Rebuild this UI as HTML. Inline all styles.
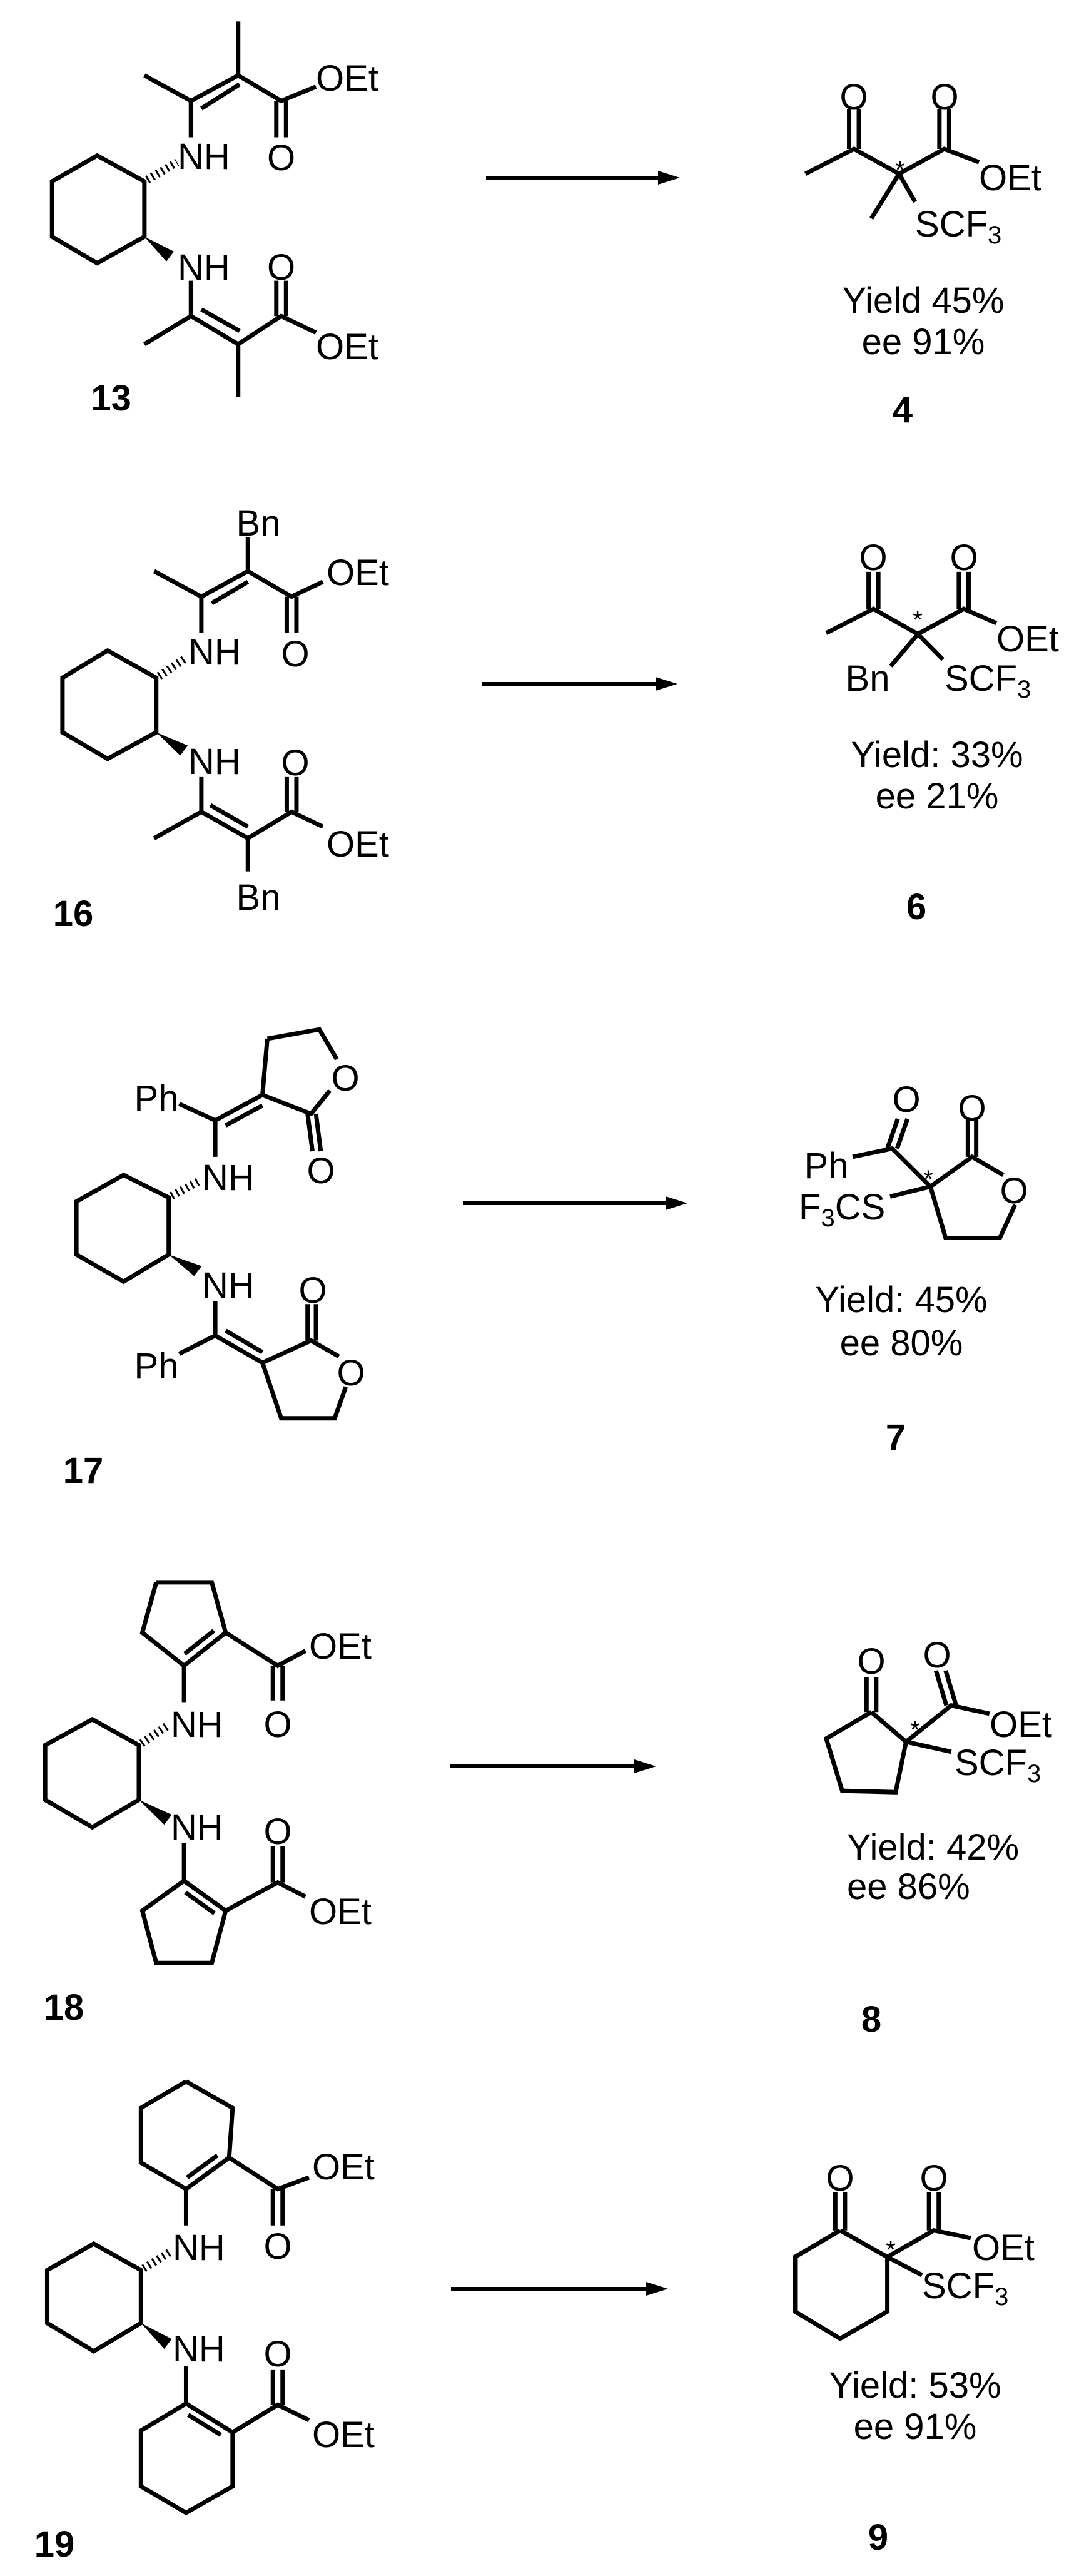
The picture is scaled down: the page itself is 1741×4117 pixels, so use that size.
<!DOCTYPE html>
<html><head><meta charset="utf-8"><style>
html,body{margin:0;padding:0;background:#fff}
svg{display:block}
.b{fill:none;stroke:#000;stroke-width:7;vector-effect:non-scaling-stroke;stroke-linecap:butt;stroke-linejoin:miter}
.h{fill:none;stroke:#000;stroke-width:13;stroke-dasharray:3 6;vector-effect:non-scaling-stroke}
text{font-family:"Liberation Sans",Arial,sans-serif;font-size:58px;fill:#000}
.bd{font-weight:bold}
.st{font-size:40px}
</style></head><body>
<svg width="1741" height="4117" viewBox="0 0 1741 4117" xmlns="http://www.w3.org/2000/svg">

<!-- ROW 1 -->
<g transform="translate(0,0) scale(1.11,0.529)">
<path class="b" d="M343,65L343,228 M208,228L275,305L343,228L405,305L455,262 M290,328L345,255 M398,305L398,415 M412,305L412,415 M275,305L275,415
M208,548L140,470L75,548L75,715L140,795L208,715Z
M275,848L275,955L343,1040L405,955L455,1005 M290,935L345,1000 M208,1040L275,955 M343,1040L343,1200 M398,848L398,955 M412,848L412,955
M1160,525L1230,450L1295,525L1360,450L1410,490 M1223,450L1223,330 M1237,450L1237,330 M1353,450L1353,330 M1367,450L1367,330 M1295,525L1255,660 M1295,525L1318,610"/>
<path class="h" d="M212,543L255,490"/>
<polygon points="208,715 239.5,790 250.5,760"/>
</g>
<path d="M777,284L1060,284" stroke="#000" stroke-width="6"/>
<polygon points="1087,284 1052,273 1052,295"/>
<text x="505" y="145">OEt</text>
<text x="284" y="270">NH</text>
<text x="449.6" y="272" text-anchor="middle">O</text>
<text x="284" y="447">NH</text>
<text x="449.6" y="447" text-anchor="middle">O</text>
<text x="505" y="574">OEt</text>
<text x="177.6" y="656" text-anchor="middle" class="bd">13</text>
<text x="1365" y="175" text-anchor="middle">O</text>
<text x="1510" y="175" text-anchor="middle">O</text>
<text x="1439" y="285" text-anchor="middle" class="st">*</text>
<text x="1565" y="304">OEt</text>
<text x="1463" y="378">SCF<tspan class="st" dy="11">3</tspan></text>
<text x="1476" y="500" text-anchor="middle">Yield 45%</text>
<text x="1476" y="566" text-anchor="middle">ee 91%</text>
<text x="1443" y="675" text-anchor="middle" class="bd">4</text>

<!-- ROW 2 -->
<g transform="translate(0,660) scale(1.11,0.529)">
<path class="b" d="M357,375L357,478 M222,478L290,555L357,478L420,555L465,510 M305,575L357,510 M413,555L413,665 M427,555L427,665 M290,555L290,665
M225,800L155,718L90,800L90,965L155,1045L225,965Z
M290,1100L290,1205L357,1285L420,1205L465,1250 M303,1185L357,1250 M222,1285L290,1205 M413,1100L413,1205 M427,1100L427,1205 M357,1285L357,1385
M1190,665L1258,592L1322,668L1388,592L1435,635 M1251,592L1251,480 M1265,592L1265,480 M1381,592L1381,480 M1395,592L1395,480 M1322,668L1283,765 M1322,668L1358,745"/>
<path class="h" d="M229,795L267,742"/>
<polygon points="225,965 259.5,1035 270.5,1005"/>
</g>
<path d="M771,1093L1056,1093" stroke="#000" stroke-width="6"/>
<polygon points="1083,1093 1048,1082 1048,1104"/>
<text x="413" y="856" text-anchor="middle">Bn</text>
<text x="522" y="935">OEt</text>
<text x="301" y="1062">NH</text>
<text x="472" y="1065" text-anchor="middle">O</text>
<text x="301" y="1237">NH</text>
<text x="472" y="1239" text-anchor="middle">O</text>
<text x="522" y="1369">OEt</text>
<text x="413" y="1454" text-anchor="middle">Bn</text>
<text x="117" y="1480" text-anchor="middle" class="bd">16</text>
<text x="1396" y="911" text-anchor="middle">O</text>
<text x="1541" y="911" text-anchor="middle">O</text>
<text x="1467" y="1004" text-anchor="middle" class="st">*</text>
<text x="1593" y="1041">OEt</text>
<text x="1387" y="1104" text-anchor="middle">Bn</text>
<text x="1510" y="1104">SCF<tspan class="st" dy="11">3</tspan></text>
<text x="1498" y="1226" text-anchor="middle">Yield: 33%</text>
<text x="1498" y="1292" text-anchor="middle">ee 21%</text>
<text x="1465" y="1469" text-anchor="middle" class="bd">6</text>

<!-- ROW 3 -->
<g transform="translate(0,1550) scale(1.11,0.529)">
<path class="b" d="M385,208L460,180L485,270 M475,365L448,435L378,378L385,208 M443,435L450,548 M455,435L462,548
M258,405L310,455L378,378 M325,470L378,410 M310,455L310,565
M243,688L178,620L110,700L110,860L178,942L243,860Z
M310,1000L310,1105L378,1187L448,1120L488,1168 M498,1260L482,1355L405,1355L378,1187 M325,1090L378,1155 M258,1160L310,1105 M443,1120L443,1010 M455,1120L455,1010
M1228,565L1285,540L1340,655L1400,565L1445,620 M1278,540L1293,450 M1292,540L1307,450 M1462,710L1440,810L1362,810L1340,655 M1282,685L1340,655 M1394,565L1394,450 M1406,565L1406,450"/>
<path class="h" d="M247,683L285,640"/>
<polygon points="243,860 279.5,925 290.5,895"/>
</g>
<path d="M740,1923L1072,1923" stroke="#000" stroke-width="6"/>
<polygon points="1099,1923 1064,1912 1064,1934"/>
<text x="250" y="1775" text-anchor="middle">Ph</text>
<text x="552" y="1743" text-anchor="middle">O</text>
<text x="513" y="1891" text-anchor="middle">O</text>
<text x="323" y="1902">NH</text>
<text x="323" y="2074">NH</text>
<text x="250" y="2203" text-anchor="middle">Ph</text>
<text x="561" y="2214" text-anchor="middle">O</text>
<text x="500" y="2082" text-anchor="middle">O</text>
<text x="133" y="2370" text-anchor="middle" class="bd">17</text>
<text x="1321" y="1883" text-anchor="middle">Ph</text>
<text x="1449" y="1777" text-anchor="middle">O</text>
<text x="1484" y="1898" text-anchor="middle" class="st">*</text>
<text x="1277" y="1949">F<tspan class="st" dy="11">3</tspan><tspan dy="-11">CS</tspan></text>
<text x="1621" y="1923" text-anchor="middle">O</text>
<text x="1554" y="1791" text-anchor="middle">O</text>
<text x="1441" y="2097" text-anchor="middle">Yield: 45%</text>
<text x="1441" y="2166" text-anchor="middle">ee 80%</text>
<text x="1432" y="2317" text-anchor="middle" class="bd">7</text>

<!-- ROW 4 -->
<g transform="translate(0,2440) scale(1.11,0.529)">
<path class="b" d="M225,168L305,168L325,320L265,420L205,320L225,168 M308,314L266,384 M325,320L400,420L440,375 M393,420L393,525 M407,420L407,525 M265,420L265,530
M200,660L133,582L65,660L65,825L133,908L200,825Z
M265,955L265,1070L325,1160L305,1318L225,1318L205,1160L265,1070 M267,1105L309,1168 M325,1160L400,1075L440,1118 M393,1075L393,965 M407,1075L407,965
M1255,560L1190,640L1213,798L1290,802L1305,650L1255,560 M1248,560L1248,455 M1262,560L1262,455 M1305,650L1370,540L1425,565 M1363,540L1348,435 M1377,540L1362,435 M1305,650L1370,680"/>
<path class="h" d="M204,655L242,600"/>
<polygon points="200,825 236.5,900 247.5,870"/>
</g>
<path d="M719,2823L1022,2823" stroke="#000" stroke-width="6"/>
<polygon points="1049,2823 1014,2812 1014,2834"/>
<text x="494" y="2651">OEt</text>
<text x="444" y="2776" text-anchor="middle">O</text>
<text x="273" y="2776">NH</text>
<text x="273" y="2940">NH</text>
<text x="444" y="2947" text-anchor="middle">O</text>
<text x="494" y="3075">OEt</text>
<text x="102" y="3228" text-anchor="middle" class="bd">18</text>
<text x="1393" y="2675" text-anchor="middle">O</text>
<text x="1498" y="2665" text-anchor="middle">O</text>
<text x="1582" y="2776">OEt</text>
<text x="1463" y="2778" text-anchor="middle" class="st">*</text>
<text x="1526" y="2837">SCF<tspan class="st" dy="11">3</tspan></text>
<text x="1354" y="2972">Yield: 42%</text>
<text x="1354" y="3035">ee 86%</text>
<text x="1393" y="3247" text-anchor="middle" class="bd">8</text>

<!-- ROW 5 -->
<g transform="translate(0,3287) scale(1.11,0.529)">
<path class="b" d="M268,75L335,155L330,305L268,400L203,320L203,155L268,75 M313,298L269.5,365 M330,305L400,400L445,365 M393,400L393,510 M407,400L407,510 M268,400L268,510
M203,645L135,565L68,645L68,805L135,890L203,805Z
M268,935L268,1048L335,1135L335,1298L268,1378L203,1298L203,1130L268,1048 M271,1082L318,1143 M335,1135L400,1052L445,1098 M393,1052L393,945 M407,1052L407,945
M1210,525L1145,605L1145,770L1210,852L1278,770L1278,605L1210,525 M1203,525L1203,410 M1217,525L1217,410 M1278,605L1345,525L1398,548 M1338,525L1338,410 M1352,525L1352,410 M1278,605L1328,660"/>
<path class="h" d="M207,640L245,590"/>
<polygon points="203,805 236.5,883 247.5,853"/>
</g>
<path d="M721,3658L1041,3658" stroke="#000" stroke-width="6"/>
<polygon points="1068,3658 1033,3647 1033,3669"/>
<text x="499" y="3483">OEt</text>
<text x="444" y="3610" text-anchor="middle">O</text>
<text x="276" y="3612">NH</text>
<text x="276" y="3774">NH</text>
<text x="444" y="3782" text-anchor="middle">O</text>
<text x="499" y="3911">OEt</text>
<text x="87" y="4086" text-anchor="middle" class="bd">19</text>
<text x="1343" y="3501" text-anchor="middle">O</text>
<text x="1493" y="3501" text-anchor="middle">O</text>
<text x="1554" y="3612">OEt</text>
<text x="1424" y="3609" text-anchor="middle" class="st">*</text>
<text x="1474" y="3673">SCF<tspan class="st" dy="11">3</tspan></text>
<text x="1463" y="3832" text-anchor="middle">Yield: 53%</text>
<text x="1463" y="3898" text-anchor="middle">ee 91%</text>
<text x="1404" y="4075" text-anchor="middle" class="bd">9</text>
</svg>
</body></html>
